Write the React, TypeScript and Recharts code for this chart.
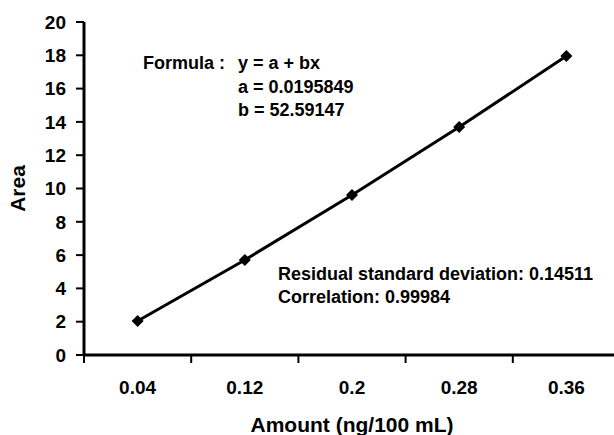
import { LineChart, Line, XAxis, YAxis } from "recharts";

const amounts = ["0.04", "0.12", "0.2", "0.28", "0.36"];
const areas = [2.04, 5.71, 9.61, 13.69, 17.96];
const yTicks = [0, 2, 4, 6, 8, 10, 12, 14, 16, 18, 20];

const formulaLines = ["y = a + bx", "a = 0.0195849", "b = 52.59147"];
const statsLines = ["Residual standard deviation: 0.14511", "Correlation: 0.99984"];

const data = amounts.map((amount, i) => ({ amount, area: areas[i] }));

const font = '"Liberation Sans", Arial, sans-serif';

// chart is a bit wider than the window; the right end of the x axis gets cut off like in the original
const W = 640;
const H = 435;
const margin = { top: 22, right: 20, bottom: 0, left: 0 };
const yAxisW = 84;
const halfBand = (W - margin.left - margin.right - yAxisW) / amounts.length / 2;

function Diamond(props: any) {
  const { cx, cy, index } = props;
  const r = 6;
  return (
    <path
      key={`d-${index}`}
      d={`M${cx},${cy - r} L${cx + r},${cy} L${cx},${cy + r} L${cx - r},${cy} Z`}
      fill="#000"
    />
  );
}

// label in the middle of the band, tick mark on the left edge of the band
function XTick(props: any) {
  const { x, y, payload } = props;
  return (
    <g>
      <line x1={x - halfBand} x2={x - halfBand} y1={y} y2={y + 8} stroke="#000" strokeWidth={2} />
      <text x={x} y={y + 39} textAnchor="middle" fontSize={19} fontWeight={700} fontFamily={font} fill="#000">
        {payload.value}
      </text>
    </g>
  );
}

export default function App() {
  return (
    <div style={{ position: "absolute", left: 0, top: 0, width: 614, height: 435, overflow: "hidden", background: "#fff" }}>
      <LineChart width={W} height={H} data={data} margin={margin}>
        <XAxis
          dataKey="amount"
          scale="band"
          height={80}
          tick={<XTick />}
          tickLine={false}
          tickSize={0}
          tickMargin={0}
          axisLine={{ stroke: "#000", strokeWidth: 3 }}
          label={{ value: "Amount (ng/100 mL)", position: "insideBottom", offset: 3, fontSize: 21, fontWeight: 700, fontFamily: font, fill: "#000" }}
        />
        <YAxis
          width={yAxisW}
          domain={[0, 20]}
          ticks={yTicks}
          interval={0}
          tickSize={8}
          tickMargin={10}
          tick={{ fontSize: 19, fontWeight: 700, fontFamily: font, fill: "#000" }}
          tickLine={{ stroke: "#000", strokeWidth: 2 }}
          axisLine={{ stroke: "#000", strokeWidth: 3 }}
          label={{ value: "Area", angle: -90, position: "insideLeft", offset: 18, fontSize: 21, fontWeight: 700, fontFamily: font, fill: "#000", style: { textAnchor: "middle" } }}
        />
        <Line
          type="linear"
          dataKey="area"
          stroke="#000"
          strokeWidth={3}
          dot={Diamond}
          activeDot={false}
          isAnimationActive={false}
        />
      </LineChart>
      <svg width={614} height={435} style={{ position: "absolute", left: 0, top: 0, pointerEvents: "none" }}>
        <g fontFamily={font} fontWeight={700} fontSize={18} fill="#000">
          <text x={143} y={69}>Formula :</text>
          {formulaLines.map((t, i) => (
            <text key={t} x={238} y={69 + i * 23.5}>{t}</text>
          ))}
          {statsLines.map((t, i) => (
            <text key={t} x={278} y={280 + i * 23}>{t}</text>
          ))}
        </g>
      </svg>
    </div>
  );
}
